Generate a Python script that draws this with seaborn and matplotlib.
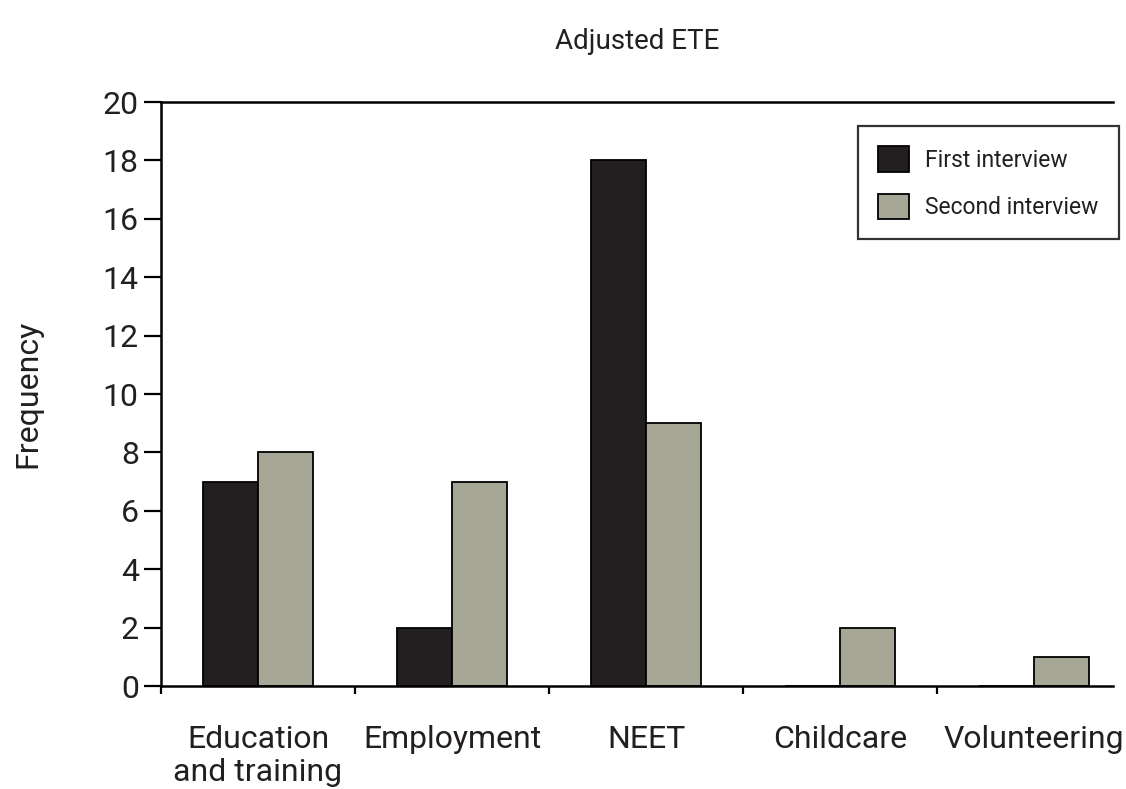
import matplotlib
matplotlib.use("Agg")
import matplotlib.pyplot as plt
import seaborn as sns
import pandas as pd
import numpy as np

categories = ["Education\nand training", "Employment", "NEET", "Childcare", "Volunteering"]
first_interview = [7, 2, 18, 0, 0]
second_interview = [8, 7, 9, 2, 1]
series_names = ["First interview", "Second interview"]
colors = ["#231f20", "#a6a796"]

sns.set_theme(style="white")
plt.rcParams['font.family'] = ['Roboto', 'DejaVu Sans']

df = pd.DataFrame({
    "Category": categories * 2,
    "Frequency": first_interview + second_interview,
    "Interview": [series_names[0]] * len(categories) + [series_names[1]] * len(categories),
})

fig = plt.figure(figsize=(11.26, 7.89), dpi=100)
ax = fig.add_axes([161/1126, 1 - 686/789, (1113-161)/1126, (686-102)/789])

sns.barplot(data=df, x="Category", y="Frequency", hue="Interview", order=categories,
            hue_order=series_names, palette=colors, width=0.57, edgecolor="black",
            linewidth=1.3, saturation=1, ax=ax, errorbar=None)

ax.set_ylim(0, 20)
ax.set_xlim(-0.5, 4.407)
ax.set_yticks(np.arange(0, 21, 2))
ax.tick_params(axis="y", which="major", direction="out", length=12, width=1.6,
               labelsize=23, pad=4, colors="black", left=True)
ax.set_xticks(np.arange(len(categories)))
ax.set_xticklabels(categories, fontsize=23, color="#231f20", linespacing=1.2)
ax.set_xticks(np.arange(len(categories)) - 0.5, minor=True)
ax.tick_params(axis="x", which="major", length=0, pad=28)
ax.tick_params(axis="x", which="minor", direction="out", length=6, width=1.6,
               color="black", bottom=True)
for lbl in ax.get_yticklabels():
    lbl.set_color("#231f20")

ax.spines["right"].set_visible(False)
for s in ["left", "bottom", "top"]:
    ax.spines[s].set_color("black")
    ax.spines[s].set_linewidth(1.8)

ax.set_xlabel("")
ax.set_ylabel("Frequency", fontsize=23, color="#231f20")
ax.yaxis.set_label_coords(-0.125, 0.5)
ax.set_title("Adjusted ETE", fontsize=20, color="#231f20", pad=38)

leg = ax.legend(loc="upper right", bbox_to_anchor=(1.006, 0.959), fontsize=16.5,
                frameon=True, fancybox=False, edgecolor="black", handlelength=1.35,
                handleheight=1.35, borderpad=0.88, labelspacing=0.95, handletextpad=0.7,
                borderaxespad=0)
leg.get_frame().set_linewidth(1.6)
for t in leg.get_texts():
    t.set_color("#231f20")

fig.savefig("out.png", dpi=100)
